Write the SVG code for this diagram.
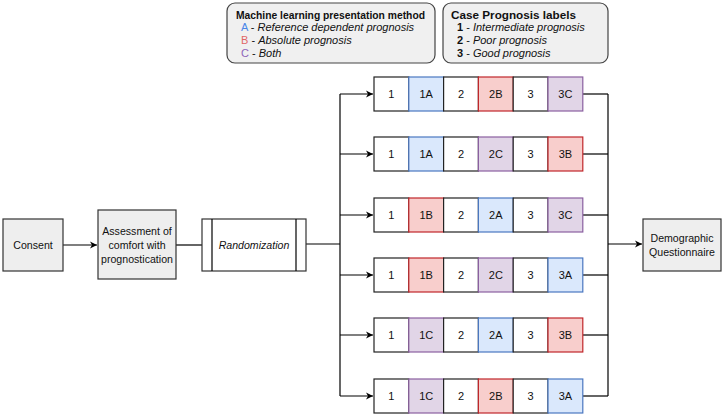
<svg xmlns="http://www.w3.org/2000/svg" width="724" height="417" viewBox="0 0 724 417">
<defs>
<marker id="arr" markerWidth="8" markerHeight="8" refX="7" refY="4" orient="auto" markerUnits="userSpaceOnUse">
<path d="M0,0.5 L7,4 L0,7.5 L2,4 Z" fill="#000"/>
</marker>
<style>
text{font-family:"Liberation Sans",Arial,sans-serif;font-size:11px;fill:#111}
.box{fill:#eeeeee;stroke:#333;stroke-width:1.2}
.leg{fill:#f0f0f0;stroke:#444;stroke-width:1.2}
.c{text-anchor:middle;dominant-baseline:central}
.m{font-size:10.6px}
.w{fill:#fff;stroke:#222;stroke-width:1.2}
.A{fill:#dae8fc;stroke:#4a77c0;stroke-width:1.2}
.B{fill:#f8cecc;stroke:#c0262a;stroke-width:1.2}
.C{fill:#e1d5e7;stroke:#8a5fa0;stroke-width:1.2}
.ln{fill:none;stroke:#000;stroke-width:1.2}
.t{font-weight:bold}
.i{font-style:italic}
</style>
</defs>
<rect width="724" height="417" fill="#fff"/>

<g id="legend-method">
<rect class="leg" x="227" y="3" width="208" height="60" rx="8"/>
<text x="236" y="19" class="t" textLength="189" lengthAdjust="spacingAndGlyphs">Machine learning presentation method</text>
<text x="241" y="31"><tspan style="fill:#4a86e8">A</tspan> - <tspan class="i">Reference dependent prognosis</tspan></text>
<text x="241" y="44"><tspan style="fill:#e06666">B</tspan> - <tspan class="i">Absolute prognosis</tspan></text>
<text x="241" y="57"><tspan style="fill:#8e63b8">C</tspan> - <tspan class="i">Both</tspan></text>
</g>

<g id="legend-labels">
<rect class="leg" x="443" y="3" width="165" height="60" rx="8"/>
<text x="451" y="19" class="t" textLength="125" lengthAdjust="spacingAndGlyphs">Case Prognosis labels</text>
<text x="457" y="31"><tspan class="t">1</tspan> - <tspan class="i">Intermediate prognosis</tspan></text>
<text x="457" y="44"><tspan class="t">2</tspan> - <tspan class="i">Poor prognosis</tspan></text>
<text x="457" y="57"><tspan class="t">3</tspan> - <tspan class="i">Good prognosis</tspan></text>
</g>

<g id="connectors">
<line class="ln" x1="63" y1="245" x2="97" y2="245" marker-end="url(#arr)"/>
<line class="ln" x1="176" y1="245" x2="202" y2="245"/>
<line class="ln" x1="306" y1="244" x2="340" y2="244"/>
<line class="ln" x1="340" y1="94" x2="340" y2="396"/>
<line class="ln" x1="340" y1="94" x2="373" y2="94" marker-end="url(#arr)"/>
<line class="ln" x1="340" y1="154" x2="373" y2="154" marker-end="url(#arr)"/>
<line class="ln" x1="340" y1="215" x2="373" y2="215" marker-end="url(#arr)"/>
<line class="ln" x1="340" y1="275" x2="373" y2="275" marker-end="url(#arr)"/>
<line class="ln" x1="340" y1="335" x2="373" y2="335" marker-end="url(#arr)"/>
<line class="ln" x1="340" y1="396" x2="373" y2="396" marker-end="url(#arr)"/>
<line class="ln" x1="608" y1="94" x2="608" y2="396"/>
<line class="ln" x1="583" y1="94" x2="608" y2="94"/>
<line class="ln" x1="583" y1="154" x2="608" y2="154"/>
<line class="ln" x1="583" y1="215" x2="608" y2="215"/>
<line class="ln" x1="583" y1="275" x2="608" y2="275"/>
<line class="ln" x1="583" y1="335" x2="608" y2="335"/>
<line class="ln" x1="583" y1="396" x2="608" y2="396"/>
<line class="ln" x1="608" y1="244" x2="642" y2="244" marker-end="url(#arr)"/>
</g>

<g id="consent">
<rect class="box" x="3" y="219" width="60" height="52"/>
<text x="33" y="245" class="c m">Consent</text>
</g>
<g id="assessment">
<rect class="box" x="98" y="210" width="78" height="69"/>
<text x="137" y="231" class="c m">Assessment of</text>
<text x="137" y="245" class="c m">comfort with</text>
<text x="137" y="259" class="c m">prognostication</text>
</g>
<g id="randomization">
<rect class="box" x="202" y="219" width="104" height="52" style="fill:#fff"/>
<line class="ln" x1="212" y1="219" x2="212" y2="271"/>
<line class="ln" x1="296" y1="219" x2="296" y2="271"/>
<text x="254" y="245" class="c i m">Randomization</text>
</g>
<g id="demographic">
<rect class="box" x="643" y="219" width="78" height="52"/>
<text x="682" y="238" class="c m">Demographic</text>
<text x="682" y="252" class="c m">Questionnaire</text>
</g>

<g id="row1" transform="translate(374,77)">
<rect class="w" x="0" y="0" width="34.8" height="34"/><text x="17.4" y="17" class="c">1</text>
<rect class="A" x="34.8" y="0" width="34.8" height="34"/><text x="52.2" y="17" class="c">1A</text>
<rect class="w" x="69.6" y="0" width="34.8" height="34"/><text x="87" y="17" class="c">2</text>
<rect class="B" x="104.4" y="0" width="34.8" height="34"/><text x="121.8" y="17" class="c">2B</text>
<rect class="w" x="139.2" y="0" width="34.8" height="34"/><text x="156.6" y="17" class="c">3</text>
<rect class="C" x="174" y="0" width="34.8" height="34"/><text x="191.4" y="17" class="c">3C</text>
</g>
<g id="row2" transform="translate(374,137)">
<rect class="w" x="0" y="0" width="34.8" height="34"/><text x="17.4" y="17" class="c">1</text>
<rect class="A" x="34.8" y="0" width="34.8" height="34"/><text x="52.2" y="17" class="c">1A</text>
<rect class="w" x="69.6" y="0" width="34.8" height="34"/><text x="87" y="17" class="c">2</text>
<rect class="C" x="104.4" y="0" width="34.8" height="34"/><text x="121.8" y="17" class="c">2C</text>
<rect class="w" x="139.2" y="0" width="34.8" height="34"/><text x="156.6" y="17" class="c">3</text>
<rect class="B" x="174" y="0" width="34.8" height="34"/><text x="191.4" y="17" class="c">3B</text>
</g>
<g id="row3" transform="translate(374,198)">
<rect class="w" x="0" y="0" width="34.8" height="34"/><text x="17.4" y="17" class="c">1</text>
<rect class="B" x="34.8" y="0" width="34.8" height="34"/><text x="52.2" y="17" class="c">1B</text>
<rect class="w" x="69.6" y="0" width="34.8" height="34"/><text x="87" y="17" class="c">2</text>
<rect class="A" x="104.4" y="0" width="34.8" height="34"/><text x="121.8" y="17" class="c">2A</text>
<rect class="w" x="139.2" y="0" width="34.8" height="34"/><text x="156.6" y="17" class="c">3</text>
<rect class="C" x="174" y="0" width="34.8" height="34"/><text x="191.4" y="17" class="c">3C</text>
</g>
<g id="row4" transform="translate(374,258)">
<rect class="w" x="0" y="0" width="34.8" height="34"/><text x="17.4" y="17" class="c">1</text>
<rect class="B" x="34.8" y="0" width="34.8" height="34"/><text x="52.2" y="17" class="c">1B</text>
<rect class="w" x="69.6" y="0" width="34.8" height="34"/><text x="87" y="17" class="c">2</text>
<rect class="C" x="104.4" y="0" width="34.8" height="34"/><text x="121.8" y="17" class="c">2C</text>
<rect class="w" x="139.2" y="0" width="34.8" height="34"/><text x="156.6" y="17" class="c">3</text>
<rect class="A" x="174" y="0" width="34.8" height="34"/><text x="191.4" y="17" class="c">3A</text>
</g>
<g id="row5" transform="translate(374,318)">
<rect class="w" x="0" y="0" width="34.8" height="34"/><text x="17.4" y="17" class="c">1</text>
<rect class="C" x="34.8" y="0" width="34.8" height="34"/><text x="52.2" y="17" class="c">1C</text>
<rect class="w" x="69.6" y="0" width="34.8" height="34"/><text x="87" y="17" class="c">2</text>
<rect class="A" x="104.4" y="0" width="34.8" height="34"/><text x="121.8" y="17" class="c">2A</text>
<rect class="w" x="139.2" y="0" width="34.8" height="34"/><text x="156.6" y="17" class="c">3</text>
<rect class="B" x="174" y="0" width="34.8" height="34"/><text x="191.4" y="17" class="c">3B</text>
</g>
<g id="row6" transform="translate(374,379)">
<rect class="w" x="0" y="0" width="34.8" height="34"/><text x="17.4" y="17" class="c">1</text>
<rect class="C" x="34.8" y="0" width="34.8" height="34"/><text x="52.2" y="17" class="c">1C</text>
<rect class="w" x="69.6" y="0" width="34.8" height="34"/><text x="87" y="17" class="c">2</text>
<rect class="B" x="104.4" y="0" width="34.8" height="34"/><text x="121.8" y="17" class="c">2B</text>
<rect class="w" x="139.2" y="0" width="34.8" height="34"/><text x="156.6" y="17" class="c">3</text>
<rect class="A" x="174" y="0" width="34.8" height="34"/><text x="191.4" y="17" class="c">3A</text>
</g>
</svg>
